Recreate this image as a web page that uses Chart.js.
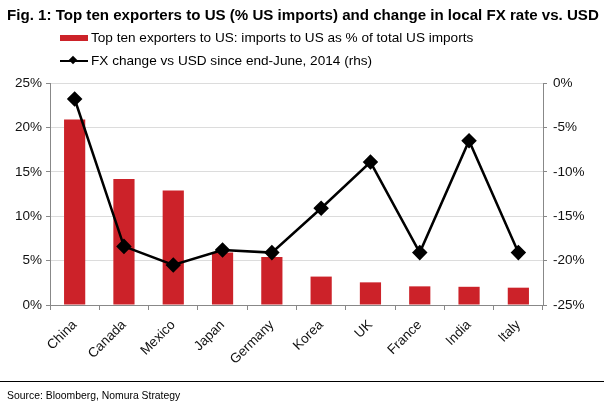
<!DOCTYPE html>
<html>
<head>
<meta charset="utf-8">
<script src="https://cdn.jsdelivr.net/npm/chart.js@4"></script>
<style>
  body { margin: 0; background: #fff; font-family: "Liberation Sans", Arial, sans-serif; }
  #wrap { position: relative; width: 607px; height: 413px; overflow: hidden; }
  #chart { position: absolute; left: 0; top: 0; }
  .title { position: absolute; left: 7px; top: 6px; font-size: 15.1px; font-weight: bold; color: #000; white-space: nowrap; }
  .leg { position: absolute; left: 60px; font-size: 13.6px; color: #000; white-space: nowrap; }
  .leg .sw { display: inline-block; width: 28px; vertical-align: middle; margin-right: 3px; position: relative; }
  .rule { position: absolute; left: 0; top: 381px; width: 604px; height: 0; border-top: 1.5px solid #000; }
  .src { position: absolute; left: 7px; top: 390px; font-size: 10.4px; color: #000; }
</style>
</head>
<body>
<div id="wrap">
  <canvas id="chart" width="607" height="413"></canvas>
  <div class="title">Fig. 1: Top ten exporters to US (% US imports) and change in local FX rate vs. USD</div>
  <div class="leg" style="top:30px"><span class="sw" style="height:6px;background:#cc2229"></span>Top ten exporters to US: imports to US as % of total US imports</div>
  <div class="leg" style="top:53px"><span class="sw" style="height:2px;background:#000"><span style="position:absolute;left:10px;top:-3px;width:6px;height:6px;background:#000;transform:rotate(45deg)"></span></span>FX change vs USD since end-June, 2014 (rhs)</div>
  <div class="rule"></div>
  <div class="src">Source: Bloomberg, Nomura Strategy</div>
</div>
<script>
// --- dados ---
const countries = ['China', 'Canada', 'Mexico', 'Japan', 'Germany', 'Korea', 'UK', 'France', 'India', 'Italy'];
const importShare = [20.9, 14.2, 12.9, 5.9, 5.4, 3.2, 2.55, 2.1, 2.05, 1.95];
const fxChange = [-1.8, -18.4, -20.5, -18.8, -19.1, -14.1, -8.9, -19.1, -6.5, -19.1];

const tickFont = { family: 'Liberation Sans', size: 13.5 };

new Chart(document.getElementById('chart').getContext('2d'), {
    data: {
        labels: countries,
        datasets: [
            {
                type: 'line',
                label: 'FX change vs USD since end-June, 2014 (rhs)',
                data: fxChange,
                yAxisID: 'y2',
                borderColor: '#000',
                backgroundColor: '#000',
                borderWidth: 2.5,
                tension: 0,
                pointStyle: 'rectRot',
                pointRadius: 6,
                order: 0
            },
            {
                type: 'bar',
                label: 'Top ten exporters to US: imports to US as % of total US imports',
                data: importShare,
                yAxisID: 'y',
                backgroundColor: '#cc2229',
                barPercentage: 0.43,
                categoryPercentage: 1,
                order: 1
            }
        ]
    },
    options: {
        responsive: false,
        animation: false,
        layout: { padding: { top: 83, left: 0, right: 0, bottom: 0 } },
        plugins: { legend: { display: false }, tooltip: { enabled: false } },
        scales: {
            x: {
                offset: true,
                afterFit: s => { s.height = 108; },
                grid: { offset: true, drawOnChartArea: false, color: '#888', tickLength: 5 },
                border: { color: '#888' },
                ticks: { color: '#111', font: tickFont, maxRotation: 45, minRotation: 45, padding: 7 }
            },
            y: {
                position: 'left',
                min: 0, max: 25,
                afterFit: s => { s.width = 50; },
                grid: { color: '#dcdcdc', tickLength: 4, tickColor: '#888' },
                border: { color: '#888' },
                ticks: { stepSize: 5, color: '#111', font: tickFont, padding: 4, callback: v => v + '%' }
            },
            y2: {
                position: 'right',
                min: -25, max: 0,
                afterFit: s => { s.width = 64; },
                grid: { drawOnChartArea: false, tickLength: 4, color: '#888' },
                border: { color: '#888' },
                ticks: { stepSize: 5, color: '#111', font: tickFont, padding: 6, callback: v => v + '%' }
            }
        }
    }
});
</script>
</body>
</html>
